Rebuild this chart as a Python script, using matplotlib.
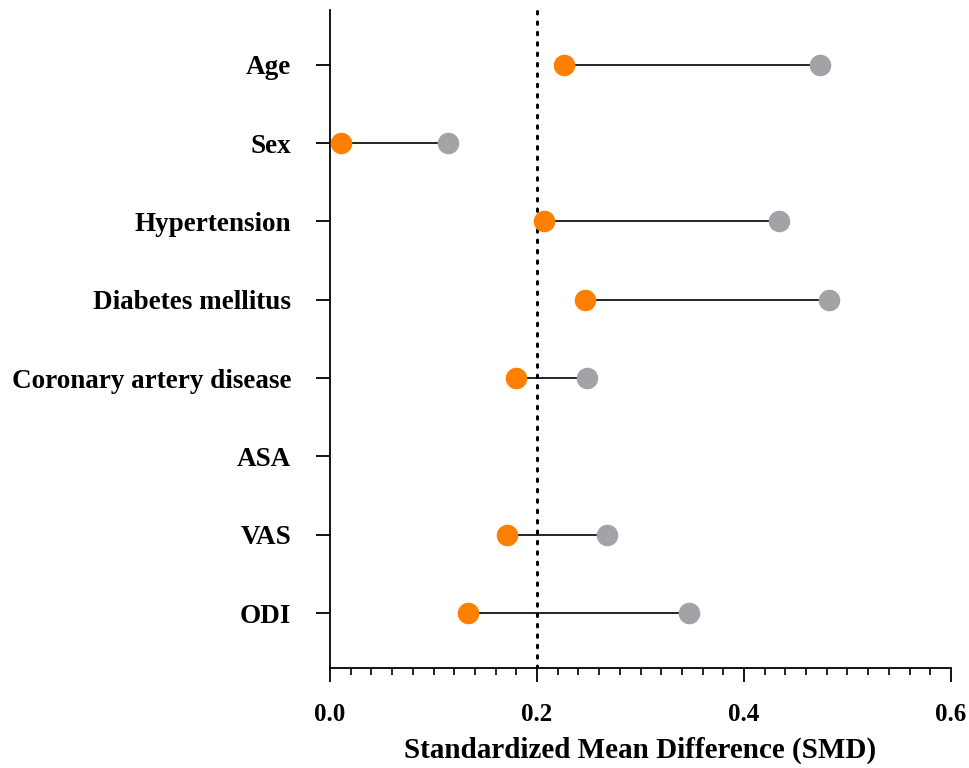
import numpy as np
import matplotlib
matplotlib.use('Agg')
import matplotlib.pyplot as plt
from matplotlib.ticker import MultipleLocator

# variables and SMD values (ASA has no points)
variables = ['Age', 'Sex', 'Hypertension', 'Diabetes mellitus',
             'Coronary artery disease', 'ASA', 'VAS', 'ODI']
smd_after = [0.226, 0.011, 0.207, 0.246, 0.180, np.nan, 0.171, 0.133]
smd_before = [0.473, 0.114, 0.434, 0.482, 0.248, np.nan, 0.268, 0.347]
threshold = 0.2

plt.rcParams['font.family'] = ['Liberation Serif', 'DejaVu Serif']
plt.rcParams['font.weight'] = 'bold'

fig = plt.figure(figsize=(9.69, 7.68), dpi=100)
ax = fig.add_axes([0.3406, 0.1302, 0.6408, 0.8568])

y = np.arange(len(variables))

# connecting lines
ax.hlines(y, smd_after, smd_before, color='black', linewidth=1.2, zorder=2)
ax.plot(smd_before, y, 'o', color='#a3a3a7', markersize=14.5, zorder=3)
ax.plot(smd_after, y, 'o', color='#ff8000', markersize=14.5, zorder=3)

# threshold line
ax.axvline(threshold, color='black', linewidth=2.2, linestyle=(0, (0.8, 2.6)),
           dash_capstyle='round', zorder=1)

ax.set_xlim(0, 0.6)
ax.set_ylim(len(variables) - 0.3, -0.7)
ax.set_yticks(y)
ax.set_yticklabels(variables, fontsize=19.5, fontweight='bold')
ax.xaxis.set_minor_locator(MultipleLocator(0.02))
ax.set_xticks([0, 0.2, 0.4, 0.6])
ax.set_xticklabels(['0.0', '0.2', '0.4', '0.6'], fontsize=18, fontweight='bold')

ax.tick_params(axis='y', length=10, width=1.3, pad=18)
ax.tick_params(axis='x', which='major', length=10, width=1.3, pad=15)
ax.tick_params(axis='x', which='minor', length=5, width=1.2)

for side in ['top', 'right']:
    ax.spines[side].set_visible(False)
for side in ['left', 'bottom']:
    ax.spines[side].set_linewidth(1.3)

ax.set_xlabel('Standardized Mean Difference (SMD)', fontsize=21, fontweight='bold', labelpad=8)

fig.savefig('out.png', dpi=100)
